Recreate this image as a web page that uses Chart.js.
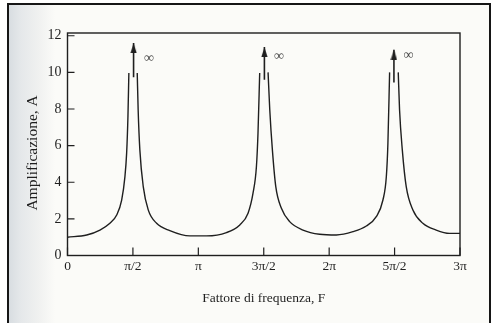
<!DOCTYPE html>
<html>
<head>
<meta charset="utf-8">
<script src="https://cdn.jsdelivr.net/npm/chart.js@4.4.1/dist/chart.umd.min.js"></script>
<style>
  html, body { margin: 0; padding: 0; background: #ffffff; }
  #page { position: relative; width: 491px; height: 323px; overflow: hidden; }
  #sheet {
    position: absolute; left: 7px; top: 3px; width: 480px; height: 330px;
    border: 2px solid #161616; border-bottom: none;
    background: linear-gradient(to right, #d8dde1 0px, #e5e8ea 12px, #f0f1f0 30px, #fbfbf8 46px);
  }
  #chart { position: absolute; left: 0; top: 0; }
</style>
</head>
<body>
<div id="page">
  <div id="sheet"></div>
  <canvas id="chart" width="491" height="323"></canvas>
</div>
<script>
// frequency factor F (in multiples of pi) and amplification A.
// null marks the break at each resonance, where the arrow takes over.
const freqF = [0, 0.147, 0.248, 0.324, 0.376, 0.414, 0.439, 0.452, 0.462, 0.469,
  0.5,
  0.533, 0.54, 0.553, 0.579, 0.617, 0.681, 0.782, 0.935, 1.063, 1.215, 1.317, 1.38, 1.418, 1.444, 1.456, 1.469,
  1.5,
  1.533, 1.546, 1.566, 1.592, 1.635, 1.698, 1.8, 1.927, 2.055, 2.182, 2.284, 2.36, 2.411, 2.437, 2.449, 2.462,
  2.5,
  2.528, 2.538, 2.559, 2.589, 2.64, 2.716, 2.818, 2.92, 3.0];
const amplA = [1.0, 1.12, 1.39, 1.76, 2.21, 3.03, 4.31, 5.59, 7.59, 9.96,
  null,
  9.96, 7.96, 5.77, 3.76, 2.49, 1.76, 1.36, 1.07, 1.07, 1.25, 1.67, 2.31, 3.4, 4.86, 6.68, 9.96,
  null,
  10.0, 7.96, 5.77, 3.76, 2.58, 1.85, 1.39, 1.16, 1.12, 1.3, 1.61, 2.12, 3.03, 4.31, 6.13, 10.0,
  null,
  10.0, 7.96, 5.77, 3.76, 2.49, 1.76, 1.39, 1.21, 1.21];

// arrows towards infinity at the resonances
const arrowF = [0.505, 1.505, 2.495];
const arrowBase = [9.74, 9.6, 9.45];
const arrowTip = [11.6, 11.38, 11.24];
const infinityF = [0.622, 1.617, 2.607];
const infinityA = [10.78, 10.87, 10.92];

const xTickValues = [0, 0.5, 1, 1.5, 2, 2.5, 3];
const xTickLabels = ["0", "π/2", "π", "3π/2", "2π", "5π/2", "3π"];
const yLabelStep = 2;
const yTitle = "Amplificazione, A";

const INK = "#1f1f1f";
const SERIF = "'Liberation Serif', 'DejaVu Serif', serif";

// slender arrow head; the tip sits at the image centre so it lands on the data point
function makeArrowHead() {
  const c = document.createElement("canvas");
  c.width = 7;
  c.height = 20;
  const g = c.getContext("2d");
  g.fillStyle = INK;
  g.beginPath();
  g.moveTo(3.5, 10);
  g.lineTo(6.6, 20);
  g.lineTo(0.4, 20);
  g.closePath();
  g.fill();
  return c;
}
const arrowHead = makeArrowHead();

// frame box, inward tick marks, infinity marks and the y title (sits a little low in the print)
const framePlugin = {
  id: "frame",
  afterDatasetsDraw(chart) {
    const { ctx, chartArea: a, scales } = chart;
    const xs = scales.x;
    const ys = scales.y;
    ctx.save();
    ctx.strokeStyle = INK;
    ctx.lineWidth = 1.4;
    ctx.strokeRect(a.left, a.top, a.right - a.left, a.bottom - a.top);
    ctx.lineWidth = 1.2;
    ctx.beginPath();
    ys.ticks.forEach((t) => {
      const y = ys.getPixelForValue(t.value);
      ctx.moveTo(a.left, y);
      ctx.lineTo(a.left + 7, y);
    });
    xTickValues.forEach((v) => {
      const x = xs.getPixelForValue(v);
      ctx.moveTo(x, a.bottom);
      ctx.lineTo(x, a.bottom - 8);
    });
    ctx.stroke();

    ctx.fillStyle = "#4a4a4a";
    ctx.font = "14px " + SERIF;
    ctx.textAlign = "center";
    ctx.textBaseline = "middle";
    infinityF.forEach((f, i) => {
      ctx.fillText("∞", xs.getPixelForValue(f), ys.getPixelForValue(infinityA[i]));
    });

    ctx.fillStyle = INK;
    ctx.font = "15.5px " + SERIF;
    ctx.translate(33, ys.getPixelForValue(5.6));
    ctx.rotate(-Math.PI / 2);
    ctx.fillText(yTitle, 0, 0);
    ctx.restore();
  },
};

const curvePoints = freqF.map((f, i) => ({ x: f, y: amplA[i] }));

const arrowSets = arrowF.map((f, i) => ({
  data: [
    { x: f, y: arrowBase[i] },
    { x: f, y: arrowTip[i] },
  ],
  borderColor: INK,
  borderWidth: 1.6,
  pointRadius: [0, 3],
  pointStyle: ["circle", arrowHead],
  fill: false,
}));

new Chart(document.getElementById("chart"), {
  type: "line",
  data: {
    datasets: [
      {
        data: curvePoints,
        borderColor: INK,
        borderWidth: 1.4,
        pointRadius: 0,
        cubicInterpolationMode: "monotone",
        spanGaps: false,
        fill: false,
      },
      ...arrowSets,
    ],
  },
  options: {
    responsive: false,
    animation: false,
    layout: { padding: { top: 33, right: 31, left: 0, bottom: 0 } },
    plugins: { legend: { display: false }, tooltip: { enabled: false } },
    scales: {
      x: {
        type: "linear",
        min: 0,
        max: 3,
        afterFit(s) { s.height = 67.5; },
        afterBuildTicks(s) { s.ticks = xTickValues.map((v) => ({ value: v })); },
        grid: { display: false, drawTicks: false },
        border: { display: false },
        ticks: {
          color: INK,
          padding: 3,
          autoSkip: false,
          maxRotation: 0,
          font: { family: SERIF, size: 13.5 },
          callback: (v) => xTickLabels[xTickValues.indexOf(v)] ?? "",
        },
        title: {
          display: true,
          text: "Fattore di frequenza, F",
          color: INK,
          font: { family: SERIF, size: 13.5 },
          padding: { top: 0, bottom: 16 },
        },
      },
      y: {
        min: 0,
        max: 12.15,
        afterFit(s) { s.width = 67.5; },
        grid: { display: false, drawTicks: false },
        border: { display: false },
        ticks: {
          stepSize: 1,
          includeBounds: false,
          color: INK,
          padding: 6,
          font: { family: SERIF, size: 14 },
          callback: (v) => (v % yLabelStep === 0 ? String(v) : ""),
        },
        title: { display: false },
      },
    },
  },
  plugins: [framePlugin],
});
</script>
</body>
</html>
